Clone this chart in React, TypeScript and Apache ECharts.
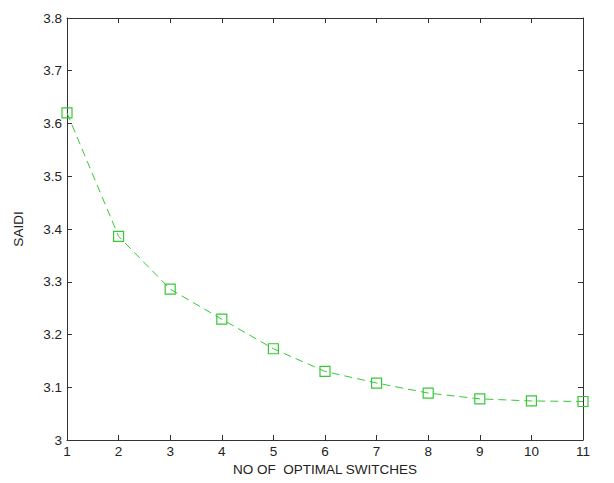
import React, { useEffect, useRef } from "react";
import * as echarts from "echarts";

const switches = [1, 2, 3, 4, 5, 6, 7, 8, 9, 10, 11];
const saidi = [3.62, 3.386, 3.286, 3.229, 3.173, 3.13, 3.108, 3.089, 3.078, 3.074, 3.073];
const xTicks = [1, 2, 3, 4, 5, 6, 7, 8, 9, 10, 11];
const yTicks = [3, 3.1, 3.2, 3.3, 3.4, 3.5, 3.6, 3.7, 3.8];

export default function App() {
  const ref = useRef<HTMLDivElement>(null);
  useEffect(() => {
    if (!ref.current) return;
    const chart = echarts.init(ref.current, null, { renderer: "svg" });
    const font = "Liberation Sans, Arial, sans-serif";
    const axisLine = { show: true, lineStyle: { color: "#333", width: 1 } };
    const tick = { show: true, inside: true, length: 5, lineStyle: { color: "#333" } };
    chart.setOption({
      animation: false,
      backgroundColor: "#fff",
      grid: { left: 67, right: 31, top: 18, bottom: 43, containLabel: false },
      xAxis: [
        {
          type: "value",
          min: 1,
          max: 11,
          interval: 1,
          axisLine,
          axisTick: tick,
          splitLine: { show: false },
          axisLabel: { color: "#222", fontFamily: font, fontSize: 13.5, margin: 4, formatter: (v: number) => (xTicks.includes(v) ? String(v) : "") },
          name: "NO OF  OPTIMAL SWITCHES",
          nameLocation: "middle",
          nameGap: 21,
          nameTextStyle: { color: "#222", fontFamily: font, fontSize: 13.5 },
        },
        {
          type: "value",
          position: "top",
          min: 1,
          max: 11,
          interval: 1,
          axisLine,
          axisTick: tick,
          axisLabel: { show: false },
          splitLine: { show: false },
        },
      ],
      yAxis: [
        {
          type: "value",
          min: 3,
          max: 3.8,
          interval: 0.1,
          axisLine,
          axisTick: tick,
          splitLine: { show: false },
          axisLabel: {
            color: "#222",
            fontFamily: font,
            fontSize: 13.5,
            margin: 5,
            formatter: (v: number) => {
              const t = yTicks.find((y) => Math.abs(y - v) < 1e-6);
              return t === undefined ? "" : String(t);
            },
          },
          name: "SAIDI",
          nameLocation: "middle",
          nameGap: 42,
          nameRotate: 90,
          nameTextStyle: { color: "#222", fontFamily: font, fontSize: 13.5 },
        },
        {
          type: "value",
          position: "right",
          min: 3,
          max: 3.8,
          interval: 0.1,
          axisLine,
          axisTick: tick,
          axisLabel: { show: false },
          splitLine: { show: false },
        },
      ],
      series: [
        {
          type: "line",
          data: switches.map((x, i) => [x, saidi[i]]),
          symbol: "rect",
          symbolSize: 10,
          showSymbol: true,
          lineStyle: { color: "#36c936", width: 1, type: [8, 5] },
          itemStyle: { color: "transparent", borderColor: "#36c936", borderWidth: 1.2 },
          clip: false,
        },
      ],
    });
    return () => chart.dispose();
  }, []);
  return <div ref={ref} style={{ width: 614, height: 483, position: "absolute", left: 0, top: 0 }} />;
}
